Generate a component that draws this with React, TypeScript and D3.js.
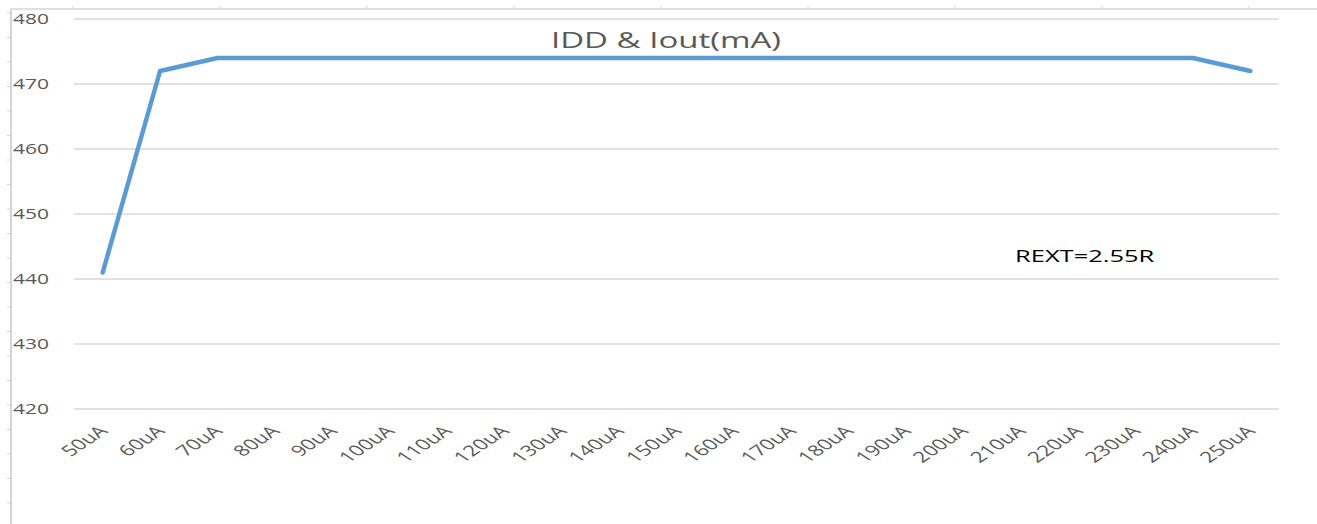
import { useMemo } from 'react';
import * as d3 from 'd3';

// chart data
const categories = [
	'50uA', '60uA', '70uA', '80uA', '90uA', '100uA', '110uA', '120uA', '130uA', '140uA', '150uA',
	'160uA', '170uA', '180uA', '190uA', '200uA', '210uA', '220uA', '230uA', '240uA', '250uA',
];
const iddValues = [
	441, 472, 474, 474, 474, 474, 474, 474, 474, 474, 474,
	474, 474, 474, 474, 474, 474, 474, 474, 474, 472,
];
const yTicks = [420, 430, 440, 450, 460, 470, 480];
const title = 'IDD & Iout(mA)';
const note = 'REXT=2.55R';

const W = 1317;
const H = 524;
const FONT = "'Open Sans', sans-serif";
const SX = 1.5; // the screenshot is stretched sideways
const GRAY = '#595959';

export default function App() {
	const x = useMemo(
		() => d3.scaleBand<string>().domain(categories).range([74, 1279]).padding(0),
		[]
	);
	const y = d3.scaleLinear().domain([420, 480]).range([409, 19]);
	const cx = (c: string) => (x(c) ?? 0) + x.bandwidth() / 2;

	const line = d3
		.line<number>()
		.x((_, i) => cx(categories[i]))
		.y((d) => y(d));

	// spreadsheet frame ticks
	const leftTicks = d3.range(13, H, 24.5);
	const topTicks = d3.range(73, W, 147);

	return (
		<svg
			width={W}
			height={H}
			style={{ position: 'absolute', left: 0, top: 0, background: '#fff' }}>
			{/* frame */}
			<line x1={11} x2={11} y1={9} y2={H} stroke='#d4d4d4' strokeWidth={2} />
			<line x1={10} x2={W} y1={9} y2={9} stroke='#e0e0e0' strokeWidth={2} />
			{leftTicks.map((t, i) => (
				<line key={'l' + i} x1={7} x2={11} y1={t} y2={t} stroke='#d4d4d4' />
			))}
			{topTicks.map((t, i) => (
				<line key={'t' + i} x1={t} x2={t} y1={6} y2={9} stroke='#d4d4d4' />
			))}

			{/* gridlines + y labels */}
			{yTicks.map((t) => (
				<g key={t}>
					<line x1={74} x2={1279} y1={y(t)} y2={y(t)} stroke='#d9d9d9' strokeWidth={1.5} />
					<text
						transform={`translate(13,${y(t) + 5}) scale(${SX},1)`}
						fontFamily={FONT}
						fontSize={14}
						fill={GRAY}>
						{t}
					</text>
				</g>
			))}

			{/* x labels */}
			{categories.map((c) => (
				<text
					key={c}
					transform={`translate(${cx(c) + 6},${432}) scale(${SX},1) rotate(-45)`}
					textAnchor='end'
					fontFamily={FONT}
					fontSize={15}
					fill={GRAY}>
					{c}
				</text>
			))}

			{/* series */}
			<path
				d={line(iddValues) ?? ''}
				fill='none'
				stroke='#5B9BD5'
				strokeWidth={4.5}
				strokeLinejoin='round'
				strokeLinecap='round'
			/>

			{/* title */}
			<text
				transform={`translate(666,48) scale(${SX},1)`}
				textAnchor='middle'
				fontFamily={FONT}
				fontSize={22}
				fill={GRAY}>
				{title}
			</text>

			{/* annotation */}
			<text
				transform={`translate(1015,262) scale(${SX},1)`}
				fontFamily={FONT}
				fontSize={17}
				fill='#000'>
				{note}
			</text>
		</svg>
	);
}
